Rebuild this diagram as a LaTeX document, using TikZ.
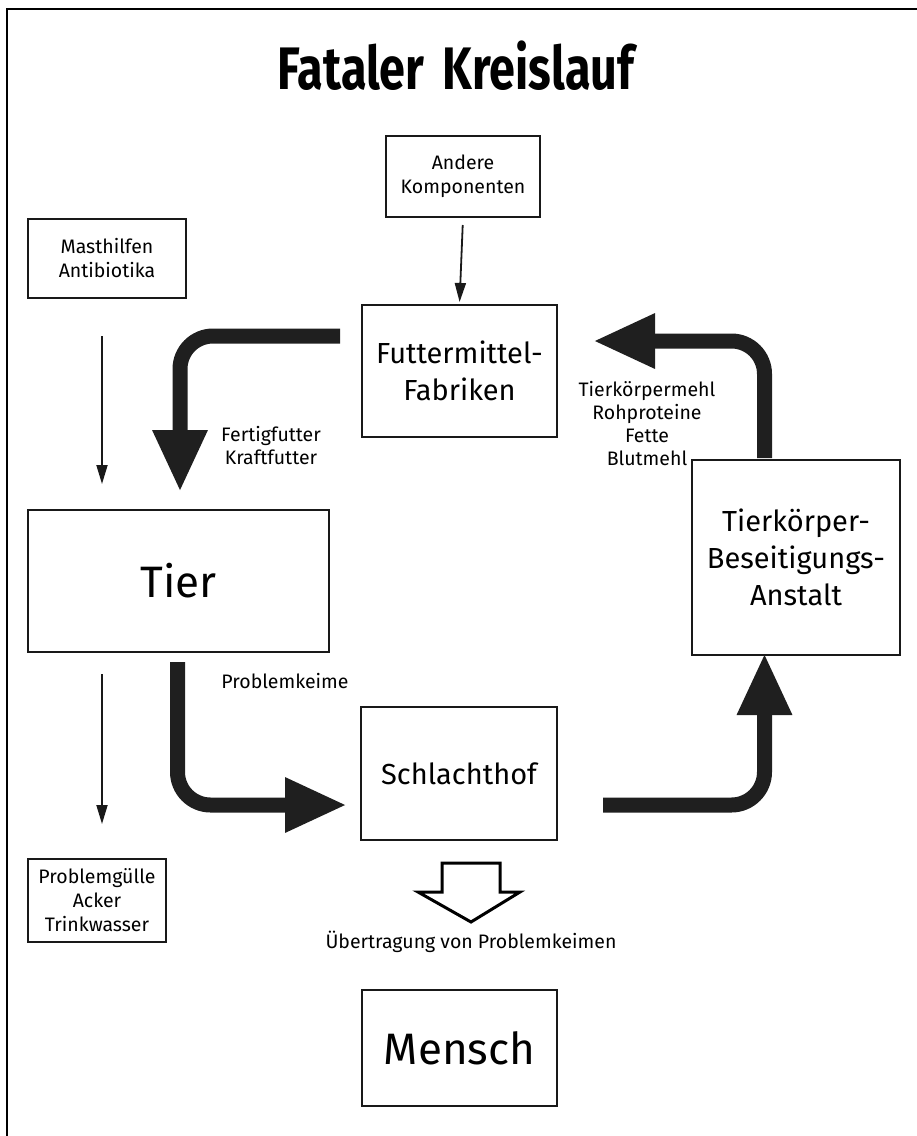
\documentclass[tikz,border=0pt]{standalone}
\usepackage{fontspec}
\setmainfont{Fira Sans}
\newfontfamily\titlefont{Fira Sans}[FakeStretch=0.78]
\usetikzlibrary{arrows.meta}
\tikzset{
  box/.style={draw=black!90, line width=2pt, fill=white, align=center, inner sep=0pt},
  small/.style={font=\fontsize{19.5}{24}\selectfont},
  mid/.style={font=\fontsize{29}{37}\selectfont},
  big/.style={font=\fontsize{44}{50}\selectfont},
  lbl/.style={align=center, inner sep=0pt, font=\fontsize{19.5}{23}\selectfont},
  thinarrow/.style={draw=black!90, line width=1.8pt, -{Triangle[width=11pt,length=19pt]}},
  bigarrow/.style={draw=black!88, line width=15pt, rounded corners=33pt, -{Triangle[width=51pt,length=62pt]}},
}
\begin{document}
\begin{tikzpicture}[x=1pt,y=-1pt]
\useasboundingbox (0,0) rectangle (917,1136);
% frame
\draw[line width=2pt] (917,9) -- (7,9) -- (7,1136);
% title
\node[anchor=base, inner sep=0pt, font=\titlefont\bfseries\fontsize{60}{62}\selectfont] (title) at (456,89) {Fataler\hspace{0.12em} Kreislauf};
% boxes
\node[box, small, minimum width=154pt, minimum height=81pt] (andere) at (463,176.5) {Andere\\Komponenten};
\node[box, small, minimum width=158pt, minimum height=79pt] (mast) at (107,258.5) {Masthilfen\\Antibiotika};
\node[box, mid, minimum width=195pt, minimum height=132pt] (futter) at (459.5,371) {Futtermittel-\\Fabriken};
\node[box, big, minimum width=301pt, minimum height=142pt] (tier) at (178.5,581) {Tier};
\node[box, mid, minimum width=208pt, minimum height=195pt] (tkba) at (796,557.5) {Tierkörper-\\Beseitigungs-\\Anstalt};
\node[box, mid, minimum width=196pt, minimum height=133pt] (schlacht) at (459,773.5) {Schlachthof};
\node[box, small, minimum width=138pt, minimum height=83pt] (guelle) at (97,900.5) {Problemgülle\\Acker\\Trinkwasser};
\node[box, big, minimum width=195pt, minimum height=116pt] (mensch) at (459.5,1048) {Mensch};
% labels
\node[lbl] (lfertig) at (271,446) {Fertigfutter\\Kraftfutter};
\node[lbl] (ltk) at (647,424) {Tierkörpermehl\\Rohproteine\\Fette\\Blutmehl};
\node[lbl] (lkeime) at (285,681) {Problemkeime};
\node[lbl] (luebert) at (471,942) {Übertragung von Problemkeimen};
% thin arrows
\coordinate (ax) at (102,0);
\draw[thinarrow, shorten <=7pt, shorten >=2pt] (andere.south) -- (futter.north);
\draw[thinarrow, shorten <=37pt, shorten >=25pt] (mast.south -| ax) -- (tier.north -| ax);
\draw[thinarrow, shorten <=21pt, shorten >=34pt] (tier.south -| ax) -- (guelle.north -| ax);
% thick arrows
\coordinate (a1s) at (340,336);
\coordinate (a1x) at (180,0);
\draw[bigarrow, shorten >=17pt] (a1s) -| (tier.north -| a1x);
\coordinate (a2s) at (764.5,458);
\coordinate (a2e) at (593,341);
\draw[bigarrow] (a2s) |- (a2e);
\coordinate (a3s) at (177.5,662);
\coordinate (a3e) at (347,805);
\draw[bigarrow] (a3s) |- (a3e);
\coordinate (a4s) at (603,805);
\coordinate (a4e) at (764.5,653);
\draw[bigarrow] (a4s) -| (a4e);
% hollow arrow
\draw[line width=3pt, line join=miter, fill=white] (442,863) -- (500,863) -- (500,892) -- (520,892) -- (471,922) -- (418,892) -- (442,892) -- cycle;
\end{tikzpicture}
\end{document}
